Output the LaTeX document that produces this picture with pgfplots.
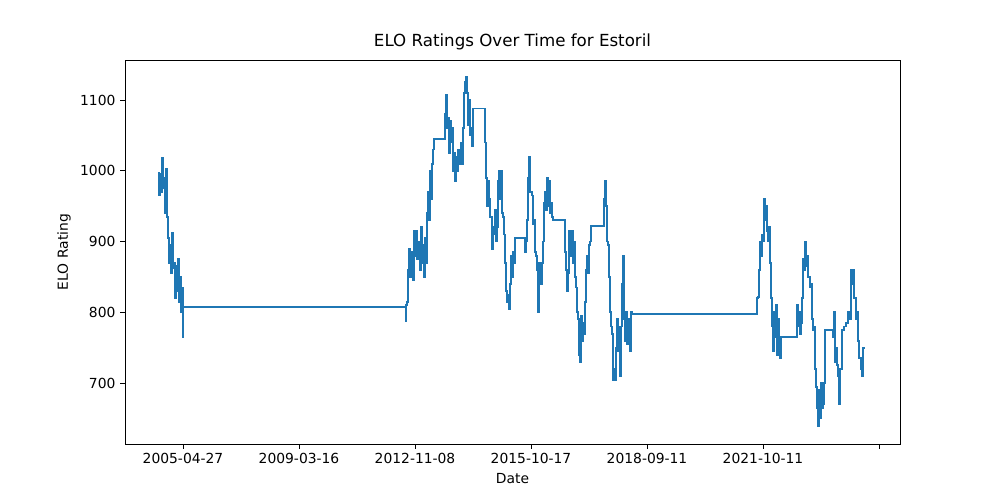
\documentclass[border=0pt]{standalone}
\usepackage{pgfplots}
\pgfplotsset{compat=1.18}
\usepackage{fontspec}
\setmainfont{DejaVu Sans}
\definecolor{mblue}{HTML}{1F77B4}
\begin{document}
\fontsize{10.4}{12}\selectfont
\begin{tikzpicture}
\begin{axis}[scale only axis, width=581.25pt, height=288pt,
 xmin=125, xmax=900, ymin=614, ymax=1156.5,
 xtick={183,299,415,531,647,763,879},
 xticklabels={2005-04-27,2009-03-16,2012-11-08,2015-10-17,2018-09-11,2021-10-11,{}},
 ytick={700,800,900,1000,1100},
 /pgf/number format/assume math mode=true,
 /pgf/number format/1000 sep={},
 tick align=outside, tick style={black, line width=0.6pt}, major tick length=3.5pt,
 xtick pos=bottom, ytick pos=left,
 ticklabel style={font=\fontsize{10.4}{12}\selectfont},
 label style={font=\fontsize{10.4}{12}\selectfont},
 title style={font=\fontsize{12.5}{14}\selectfont, yshift=-2pt},
 xlabel={Date}, ylabel={ELO Rating},
 title={ELO Ratings Over Time for Estoril},
 axis line style={line width=0.6pt},
 clip=false]
\path (rel axis cs:-0.1613,-0.1458) rectangle (rel axis cs:1.129,1.15625);
\addplot[mblue, line width=1.4pt, const plot] coordinates {
(158,997)(159,965)(160,995)(161,970)(162,1018)(163,975)(164,990)(165,940)(166,1003)(167,935)(168,905)(169,870)(170,895)(171,855)(172,912)(173,862)(174,870)(175,820)(176,865)(177,830)(178,875)(179,815)(180,850)(181,800)(182,835)(183,765)(183.5,808)
(405,808)(405.5,788)(406,810)(407,815)(408,860)(409,890)(410,850)(411,870)(412,885)(413,845)(414,915)(415,880)(416,915)(417,875)(418,900)(419,885)(420,860)(421,920)(422,870)(423,895)(424,850)(425,905)(426,870)(427,940)(428,970)(429,930)(430,1000)(431,960)(432,1010)(433,1030)(434,1045)(445,1080)(446,1107)(447,1060)(448,1075)(449,1025)(450,1070)(451,1040)(452,1060)(453,1000)(454,1025)(455,985)(456,1020)(457,1000)(458,1030)(459,1010)(460,1025)(461,1040)(462,1010)(463,1060)(464,1110)(465,1125)(466,1133)(467,1110)(468,1065)(469,1100)(470,1050)(471,1060)(472,1035)(473,1088)(485,1040)(486,990)(487,950)(488,985)(489,960)(490,935)(492,890)(493,910)(494,920)(495,945)(496,900)(497,920)(498,985)(499,1000)(500,960)(501,1000)(502,940)(503,935)(504,910)(505,870)(506,830)(507,815)(508,825)(509,805)(510,840)(511,880)(512,850)(513,885)(514,870)(515,905)(525,885)(526,900)(527,930)(528,990)(529,1020)(530,970)(532,965)(533,925)(534,930)(535,885)(536,880)(537,860)(538,800)(539,870)(540,845)(541,840)(542,870)(543,900)(544,955)(545,970)(546,945)(547,990)(548,950)(549,985)(550,940)(551,955)(552,935)(553,930)(565,885)(566,860)(567,830)(568,855)(569,915)(570,885)(571,880)(572,915)(573,870)(574,900)(575,850)(576,835)(577,800)(578,790)(579,740)(580,730)(581,795)(582,760)(583,785)(584,770)(585,815)(586,860)(587,880)(588,855)(589,895)(590,900)(591,922)(604,960)(605,985)(606,950)(607,900)(608,895)(609,850)(610,800)(611,780)(612,770)(613,705)(614,720)(615,705)(616,750)(617,790)(618,745)(619,780)(620,710)(621,780)(622,840)(623,880)(624,790)(625,760)(626,800)(627,755)(628,785)(629,790)(630,745)(631,800)(632,798)
(756,798)(757,820)(758,822)(759,860)(760,900)(761,880)(762,910)(763,900)(764,960)(765,930)(766,950)(767,915)(768,900)(769,920)(770,870)(771,820)(772,780)(773,745)(774,800)(775,765)(776,810)(777,740)(778,790)(779,755)(780,735)(781,765)(797,810)(798,780)(799,800)(800,770)(801,785)(802,820)(803,875)(804,860)(805,900)(806,865)(807,880)(808,850)(810,835)(811,840)(812,790)(813,775)(814,780)(815,720)(816,695)(817,665)(818,640)(819,690)(820,650)(821,700)(822,665)(823,670)(824,700)(825,775)(833,765)(834,800)(835,730)(836,750)(837,725)(838,710)(839,670)(840,720)(842,775)(844,780)(846,785)(848,800)(849,790)(851,860)(852,840)(853,860)(854,820)(856,790)(857,800)(858,760)(859,735)(861,720)(862,710)(863,750)(865,750)
};
\end{axis}
\end{tikzpicture}
\end{document}
